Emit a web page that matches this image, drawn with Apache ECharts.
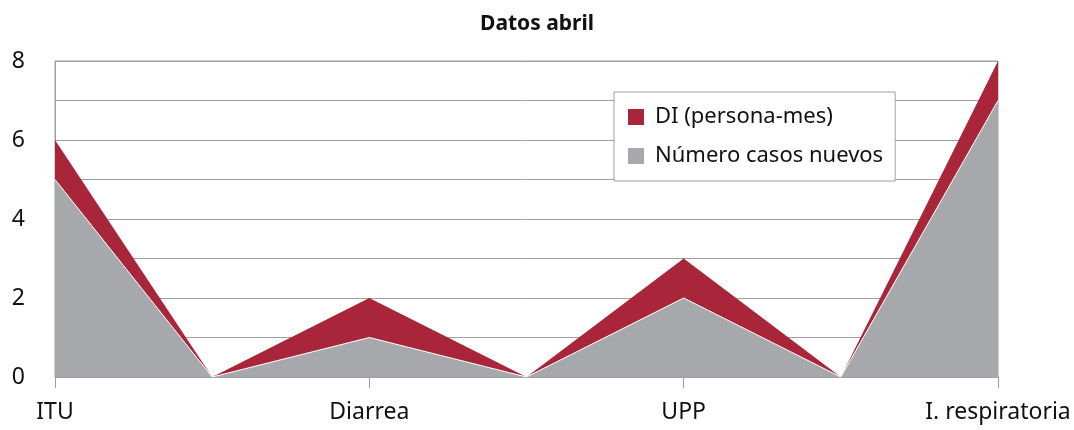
<!DOCTYPE html>
<html>
<head>
<meta charset="utf-8">
<script src="https://cdn.jsdelivr.net/npm/echarts@6/dist/echarts.min.js"></script>
<style>
  html, body { margin: 0; padding: 0; background: #fff; }
  #chart { width: 1074px; height: 430px; }
</style>
</head>
<body>
<div id="chart"></div>
<script>
// datos
const categories = ['ITU', '', 'Diarrea', '', 'UPP', '', 'I. respiratoria'];
const casosNuevos = [5, 0, 1, 0, 2, 0, 7];
const diPersonaMes = [1, 0, 1, 0, 1, 0, 1];

const font = 'Noto Sans';
const chart = echarts.init(document.getElementById('chart'));

chart.setOption({
    animation: false,
    textStyle: { fontFamily: font },
    title: {
        text: 'Datos abril',
        left: 'center',
        top: 9,
        textStyle: { fontFamily: font, fontSize: 21, fontWeight: 'bold', color: '#111' }
    },
    grid: {
        left: 55, right: 76, top: 61, bottom: 53,
        show: true, borderColor: '#a0a0a0', borderWidth: 1
    },
    legend: {
        orient: 'vertical',
        left: 614, top: 92,
        padding: [14, 12, 14, 14],
        backgroundColor: '#fff',
        borderColor: '#a0a0a0', borderWidth: 1,
        itemWidth: 16, itemHeight: 16, itemGap: 17,
        icon: 'rect',
        data: ['DI (persona-mes)', 'Número casos nuevos'],
        textStyle: { fontFamily: font, fontSize: 22, color: '#111', padding: [0, 0, 0, 6] }
    },
    xAxis: {
        type: 'category',
        data: categories,
        boundaryGap: false,
        axisLine: { lineStyle: { color: '#a0a0a0' } },
        axisTick: { interval: 1, length: 11, lineStyle: { color: '#a0a0a0' } },
        axisLabel: { interval: 0, margin: 24, fontSize: 23, color: '#111', fontFamily: font }
    },
    yAxis: {
        type: 'value',
        min: 0, max: 8, interval: 1,
        axisLine: { show: true, lineStyle: { color: '#a0a0a0' } },
        axisTick: { show: false },
        splitLine: { lineStyle: { color: '#a0a0a0' } },
        axisLabel: {
            margin: 30, fontSize: 23, color: '#111', fontFamily: font,
            formatter: v => (v % 2 === 0 ? String(v) : '')
        }
    },
    series: [
        {
            name: 'Número casos nuevos',
            type: 'line',
            stack: 'total',
            data: casosNuevos,
            symbol: 'none',
            itemStyle: { color: '#a7a8ab' },
            lineStyle: { width: 1, color: '#ffffff' },
            areaStyle: { color: '#a7a8ab', opacity: 1 }
        },
        {
            name: 'DI (persona-mes)',
            type: 'line',
            stack: 'total',
            data: diPersonaMes,
            symbol: 'none',
            itemStyle: { color: '#a8253a' },
            lineStyle: { width: 0 },
            areaStyle: { color: '#a8253a', opacity: 1 }
        }
    ]
});
</script>
</body>
</html>
